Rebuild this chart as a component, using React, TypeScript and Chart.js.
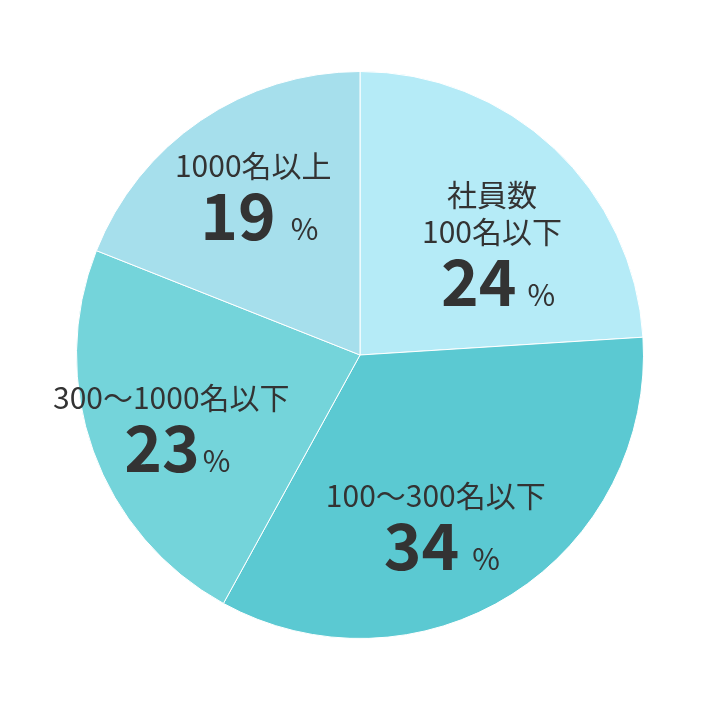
import { useEffect, useRef } from 'react';
import { Chart, registerables } from 'chart.js';

Chart.register(...registerables);

// data
const categories = ['社員数\n100名以下', '100〜300名以下', '300〜1000名以下', '1000名以上'];
const shares = [24, 34, 23, 19];

// look
const sliceColors = ['#b5ebf7', '#5bc9d2', '#74d4da', '#a6dfec'];
const labelNudge = [
  { dx: 2, dy: 89, gap: 11 },
  { dx: -26, dy: 55, gap: 13 },
  { dx: -10, dy: 53, gap: 3 },
  { dx: 0, dy: 42, gap: 15 },
];
const FONT = '"Noto Sans CJK JP", "Noto Sans", sans-serif';
const TEXT = '#333333';

const sliceLabels = {
  id: 'sliceLabels',
  afterDatasetsDraw(chart: Chart) {
    const { ctx } = chart;
    const meta = chart.getDatasetMeta(0);
    meta.data.forEach((el: any, i: number) => {
      const { x, y, startAngle, endAngle, outerRadius } = el.getProps(
        ['x', 'y', 'startAngle', 'endAngle', 'outerRadius'],
        true
      );
      const mid = (startAngle + endAngle) / 2;
      const r = outerRadius * 0.67;
      const nudge = labelNudge[i];
      const cx = x + Math.cos(mid) * r + nudge.dx;
      const base = y + Math.sin(mid) * r + nudge.dy;

      ctx.save();
      ctx.fillStyle = TEXT;
      ctx.textBaseline = 'alphabetic';

      // category lines
      const lines = (chart.data.labels![i] as string).split('\n');
      ctx.font = `400 30px ${FONT}`;
      ctx.textAlign = 'center';
      const lineH = 37;
      const lastBase = base - 63;
      lines.forEach((ln, k) => {
        ctx.fillText(ln, cx, lastBase - (lines.length - 1 - k) * lineH);
      });

      // value + percent
      const num = String(chart.data.datasets[0].data[i]);
      ctx.font = `700 64px ${FONT}`;
      const nw = ctx.measureText(num).width;
      ctx.font = `400 30px ${FONT}`;
      const pw = ctx.measureText('%').width;
      const total = nw + nudge.gap + pw;
      const left = cx - total / 2 + 6;
      ctx.textAlign = 'left';
      ctx.font = `700 64px ${FONT}`;
      ctx.fillText(num, left, base);
      ctx.font = `400 30px ${FONT}`;
      ctx.fillText('%', left + nw + nudge.gap, base);
      ctx.restore();
    });
  },
};

export default function App() {
  const canvasRef = useRef<HTMLCanvasElement>(null);

  useEffect(() => {
    document.body.style.margin = '0';
    if (!canvasRef.current) return;
    const chart = new Chart(canvasRef.current, {
      type: 'pie',
      data: {
        labels: categories,
        datasets: [
          {
            data: shares,
            backgroundColor: sliceColors,
            borderColor: '#ffffff',
            borderWidth: 1,
          },
        ],
      },
      options: {
        animation: false,
        responsive: false,
        layout: { padding: 71 },
        plugins: {
          legend: { display: false },
          tooltip: { enabled: false },
        },
      },
      plugins: [sliceLabels],
    });
    return () => chart.destroy();
  }, []);

  return (
    <div style={{ width: 720, height: 710, background: '#ffffff' }}>
      <canvas ref={canvasRef} width={720} height={710} />
    </div>
  );
}
